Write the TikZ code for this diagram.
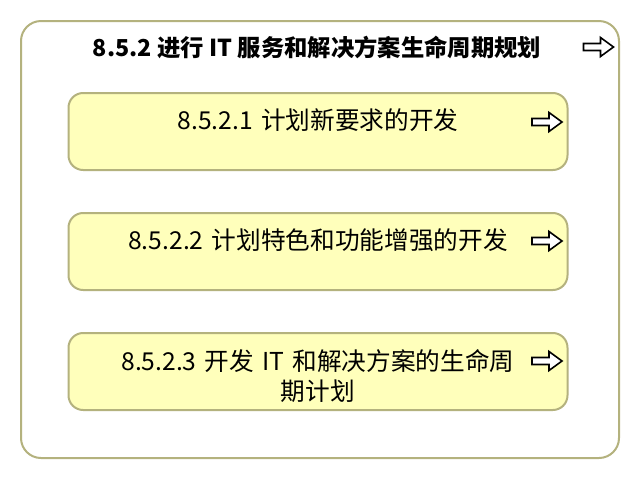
\documentclass[tikz,border=0pt]{standalone}
\usepackage{fontspec}
\setmainfont{Noto Sans CJK SC}
\usepackage{tikz}
\usetikzlibrary{
    positioning,
}
\definecolor{edgeolive}{RGB}{180,178,126}
\definecolor{taskyellow}{RGB}{255,255,187}
\tikzset{
    plan/.style={
        x=0.75pt, y=-0.75pt,
        every node/.style={inner sep=0pt, outer sep=0pt},
    },
    groupbox/.style={draw=edgeolive, line width=1.5pt, fill=white, rounded corners=15pt,
        minimum width=448.5pt, minimum height=327.75pt},
    taskbox/.style={draw=edgeolive, line width=1.5pt, fill=taskyellow, rounded corners=11pt,
        minimum width=374.25pt, minimum height=57.75pt},
    tasklabel/.style={text width=330pt, align=center, font=\fontsize{18.5}{23}\selectfont},
    grouplabel/.style={font=\fontsize{17.5}{20}\selectfont\bfseries},
    goicon/.pic={
        \draw[black, line width=1.2pt, fill=white, miter limit=4]
            (-15,-3.5) -- (2,-3.5) -- (2,-9.5) -- (15,0) -- (2,9.5) -- (2,3.5) -- (-15,3.5) -- cycle;
    },
}

\begin{document}
\begin{tikzpicture}[plan]
    \useasboundingbox (0,0) rectangle (640,480);
    \node[groupbox] (grp) at (320,239.5) {};
    \node[grouplabel] (grptxt) at (317,47) {8.5.2 进行 IT 服务和解决方案生命周期规划};
    \pic (grpgo) at (598.5,47) {goicon};
    % three task boxes
    \node[taskbox] (t1) at (318,131.5) {};
    \node[taskbox, below=32.25pt of t1] (t2) {};
    \node[taskbox, below=32.25pt of t2] (t3) {};
    \node[tasklabel, below=12pt of t1.north] (t1txt) {8.5.2.1 计划新要求的开发};
    \node[tasklabel, below=12pt of t2.north] (t2txt) {8.5.2.2 计划特色和功能增强的开发};
    \node[tasklabel, below=12pt of t3.north] (t3txt) {8.5.2.3 开发 IT 和解决方案的生命周\\期计划};
    \pic (t1go) at (547,122) {goicon};
    \pic (t2go) at (547,241) {goicon};
    \pic (t3go) at (547,361) {goicon};
\end{tikzpicture}
\end{document}
